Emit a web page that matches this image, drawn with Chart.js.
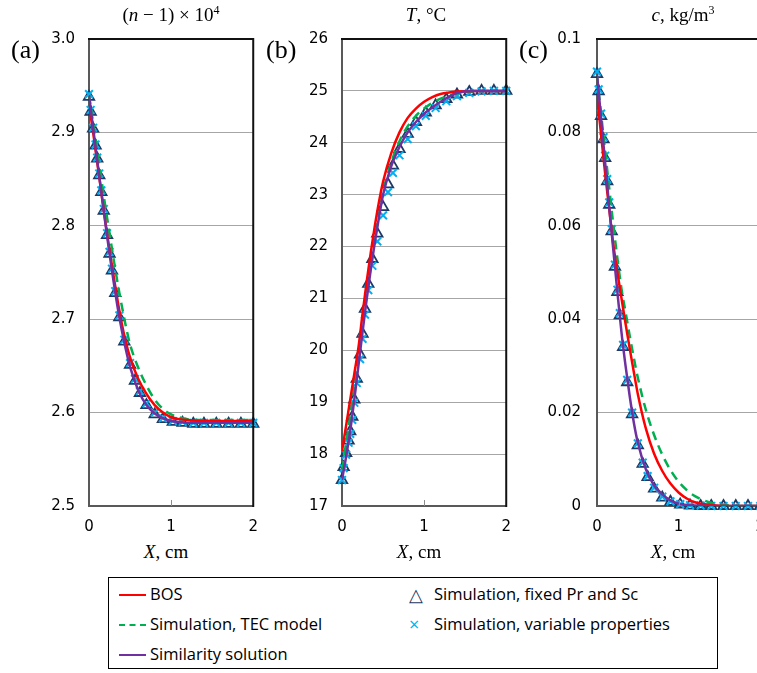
<!DOCTYPE html>
<html>
<head>
<meta charset="utf-8">
<script src="https://cdn.jsdelivr.net/npm/chart.js@4.4.0/dist/chart.umd.min.js"></script>
<style>
  html, body { margin: 0; padding: 0; background: #fff; overflow: hidden; }
  body { width: 757px; height: 673px; position: relative; }
  canvas { position: absolute; top: 0; }
  .math { position: absolute; font-family: "Liberation Serif", serif; font-size: 19px; color: #000; white-space: nowrap; transform: translateX(-50%); }
  .math sup { font-size: 12px; vertical-align: 7px; line-height: 0; }
  .tag { position: absolute; font-family: "Liberation Serif", serif; font-size: 26px; color: #000; }
  #legend { position: absolute; left: 108px; top: 577px; width: 608px; height: 90px; border: 1.5px solid #000; font-family: "Open Sans", sans-serif; font-size: 16.5px; color: #000; }
  .item { position: absolute; height: 30px; line-height: 30px; white-space: nowrap; }
  .sw { position: absolute; left: 0; top: 15px; width: 27px; height: 0; }
  .sym { position: absolute; left: 0; top: 0; font-size: 18px; }
</style>
</head>
<body>
<canvas id="chartA" width="270" height="540" style="left:0px"></canvas>
<canvas id="chartB" width="265" height="540" style="left:258px"></canvas>
<canvas id="chartC" width="266" height="540" style="left:511px"></canvas>

<div class="math" style="left:171px; top:4px">(<i>n</i> − 1) × 10<sup>4</sup></div>
<div class="math" style="left:426px; top:4px"><i>T</i>, °C</div>
<div class="math" style="left:683px; top:4px"><i>c</i>, kg/m<sup>3</sup></div>

<div class="tag" style="left:11px; top:35px">(a)</div>
<div class="tag" style="left:266px; top:35px">(b)</div>
<div class="tag" style="left:519px; top:35px">(c)</div>

<div class="math" style="left:166px; top:541px"><i>X</i>, cm</div>
<div class="math" style="left:419px; top:541px"><i>X</i>, cm</div>
<div class="math" style="left:673px; top:541px"><i>X</i>, cm</div>

<div id="legend">
  <div class="item" style="left:10px; top:1px"><span class="sw" style="border-top:2.5px solid #ff0000"></span><span style="margin-left:31px">BOS</span></div>
  <div class="item" style="left:10px; top:31px"><span class="sw" style="border-top:2.5px dashed #00b050; width:27px"></span><span style="margin-left:31px">Simulation, TEC model</span></div>
  <div class="item" style="left:10px; top:61px"><span class="sw" style="border-top:2.5px solid #7030a0"></span><span style="margin-left:31px">Similarity solution</span></div>
  <div class="item" style="left:300px; top:1px"><span class="sym" style="color:#1f3864">△</span><span style="margin-left:25px">Simulation, fixed Pr and Sc</span></div>
  <div class="item" style="left:300px; top:31px"><span class="sym" style="color:#00b0f0">×</span><span style="margin-left:25px">Simulation, variable properties</span></div>
</div>

<script>
// x positions, cm
const X_LINE = [0, 0.05, 0.1, 0.15, 0.2, 0.25, 0.3, 0.35, 0.4, 0.45, 0.5, 0.6, 0.7, 0.8, 0.9, 1.0, 1.1, 1.2, 1.4, 1.6, 1.8, 2.0];
const X_SIM = [0, 0.02, 0.05, 0.08, 0.1, 0.125, 0.15, 0.18, 0.22, 0.25, 0.28, 0.32, 0.37, 0.43, 0.5, 0.56, 0.62, 0.7, 0.8, 0.9, 1.02, 1.14, 1.27, 1.4, 1.55, 1.7, 1.85, 2.0];
const X_TICKS = [0, 1, 2];

// (a) (n-1) x 10^4
const A_BOS = [2.930, 2.900, 2.868, 2.836, 2.804, 2.774, 2.746, 2.719, 2.695, 2.675, 2.659, 2.636, 2.620, 2.608, 2.600, 2.595, 2.593, 2.592, 2.591, 2.591, 2.591, 2.591];
const A_TEC = [2.940, 2.910, 2.880, 2.850, 2.820, 2.792, 2.764, 2.738, 2.714, 2.692, 2.673, 2.648, 2.629, 2.614, 2.604, 2.598, 2.595, 2.593, 2.592, 2.592, 2.592, 2.592];
const A_SIMIL = [2.940, 2.905, 2.870, 2.836, 2.802, 2.770, 2.740, 2.712, 2.688, 2.667, 2.649, 2.624, 2.608, 2.599, 2.594, 2.591, 2.590, 2.589, 2.589, 2.589, 2.589, 2.589];
const A_FIXED = [2.938, 2.922, 2.904, 2.886, 2.872, 2.854, 2.836, 2.816, 2.790, 2.770, 2.752, 2.728, 2.702, 2.676, 2.651, 2.634, 2.621, 2.608, 2.598, 2.593, 2.590, 2.589, 2.588, 2.588, 2.588, 2.588, 2.588, 2.588];
const A_VAR = [2.941, 2.924, 2.905, 2.887, 2.873, 2.856, 2.838, 2.818, 2.792, 2.772, 2.754, 2.730, 2.704, 2.678, 2.653, 2.636, 2.623, 2.610, 2.600, 2.594, 2.591, 2.590, 2.589, 2.589, 2.589, 2.589, 2.589, 2.589];
const A_TICKS = [2.5, 2.6, 2.7, 2.8, 2.9, 3.0];
const A_TICK_LABELS = ['2.5', '2.6', '2.7', '2.8', '2.9', '3.0'];

// (b) T, C
const B_BOS = [18.05, 18.55, 19.05, 19.55, 20.05, 20.7, 21.32, 21.88, 22.4, 22.86, 23.25, 23.8, 24.2, 24.48, 24.66, 24.79, 24.88, 24.94, 24.99, 25.0, 25.0, 25.0];
const B_TEC = [17.7, 18.2, 18.75, 19.3, 19.85, 20.45, 21.05, 21.62, 22.15, 22.62, 23.05, 23.62, 24.03, 24.32, 24.52, 24.66, 24.77, 24.85, 24.95, 24.99, 25.0, 25.0];
const B_SIMIL = [17.5, 17.95, 18.45, 19.05, 19.7, 20.35, 20.98, 21.55, 22.08, 22.56, 23.0, 23.55, 23.92, 24.2, 24.4, 24.56, 24.68, 24.79, 24.96, 25.0, 25.0, 25.0];
const B_FIXED = [17.5, 17.75, 18.02, 18.26, 18.44, 18.72, 19.05, 19.45, 19.92, 20.32, 20.8, 21.28, 21.76, 22.25, 22.76, 23.2, 23.56, 23.88, 24.17, 24.4, 24.58, 24.72, 24.84, 24.93, 24.98, 25.0, 25.0, 25.0];
const B_VAR = [17.5, 17.73, 17.99, 18.22, 18.39, 18.66, 18.99, 19.37, 19.83, 20.22, 20.69, 21.16, 21.63, 22.1, 22.6, 23.05, 23.42, 23.76, 24.07, 24.32, 24.52, 24.67, 24.8, 24.9, 24.96, 24.99, 25.0, 25.0];
const B_TICKS = [17, 18, 19, 20, 21, 22, 23, 24, 25, 26];
const B_TICK_LABELS = ['17', '18', '19', '20', '21', '22', '23', '24', '25', '26'];

// (c) c, kg/m3
const C_BOS = [0.0880, 0.0795, 0.0712, 0.0635, 0.0560, 0.0500, 0.0445, 0.0390, 0.0338, 0.0288, 0.0240, 0.0165, 0.0112, 0.0075, 0.0048, 0.0029, 0.0016, 0.0008, 0.0002, 0, 0, 0];
const C_TEC = [0.0920, 0.0840, 0.0760, 0.0680, 0.0602, 0.0530, 0.0465, 0.0415, 0.0365, 0.0318, 0.0275, 0.0205, 0.0152, 0.0110, 0.0077, 0.0052, 0.0034, 0.0021, 0.0007, 0.0002, 0, 0];
const C_SIMIL = [0.0925, 0.0830, 0.0735, 0.0640, 0.0548, 0.0458, 0.0372, 0.0300, 0.0236, 0.0180, 0.0136, 0.0078, 0.0044, 0.0025, 0.0012, 0.0005, 0.0002, 0.0001, 0, 0, 0, 0];
const C_FIXED = [0.0925, 0.0888, 0.0835, 0.0785, 0.0745, 0.0695, 0.0645, 0.0588, 0.0512, 0.0458, 0.0408, 0.0340, 0.0265, 0.0196, 0.0130, 0.0090, 0.0062, 0.0037, 0.0018, 0.0009, 0.0003, 0.0001, 0, 0, 0, 0, 0, 0];
const C_VAR = [0.0930, 0.0892, 0.0840, 0.0790, 0.0750, 0.0700, 0.0650, 0.0593, 0.0517, 0.0463, 0.0413, 0.0345, 0.0270, 0.0200, 0.0134, 0.0093, 0.0064, 0.0039, 0.0020, 0.0010, 0.0004, 0.0002, 0.0001, 0, 0, 0, 0, 0];
const C_TICKS = [0, 0.02, 0.04, 0.06, 0.08, 0.1];
const C_TICK_LABELS = ['0', '0.02', '0.04', '0.06', '0.08', '0.1'];

const tickFont = { family: 'DejaVu Sans', size: 15 };

function pairs(xs, ys) {
    return xs.map((x, i) => ({ x: x, y: ys[i] }));
}

// top and right edges of the plot box, plus short inward ticks on X
const frame = {
    id: 'frame',
    afterDraw(chart) {
        const { ctx, chartArea: a } = chart;
        const xs = chart.scales.x;
        ctx.save();
        ctx.strokeStyle = '#111';
        ctx.lineWidth = 2;
        ctx.beginPath();
        ctx.moveTo(a.left - 1, a.top);
        ctx.lineTo(a.right, a.top);
        ctx.lineTo(a.right, a.bottom + 1);
        ctx.stroke();
        ctx.strokeStyle = '#8c8c8c';
        ctx.lineWidth = 1;
        X_TICKS.slice(1, -1).forEach(v => {
            const px = Math.round(xs.getPixelForValue(v)) + 0.5;
            ctx.beginPath();
            ctx.moveTo(px, a.bottom);
            ctx.lineTo(px, a.bottom - 6);
            ctx.stroke();
        });
        ctx.restore();
    }
};

function makePanel(id, d) {
    const lineSet = (label, ys, color, dash, order) => ({
        label: label,
        data: pairs(X_LINE, ys),
        borderColor: color,
        borderWidth: 2.5,
        borderDash: dash,
        pointRadius: 0,
        cubicInterpolationMode: 'monotone',
        fill: false,
        order: order
    });
    const markSet = (label, ys, color, style, radius, width, order) => ({
        label: label,
        data: pairs(X_SIM, ys),
        showLine: false,
        pointStyle: style,
        pointRadius: radius,
        borderColor: color,
        backgroundColor: 'rgba(0,0,0,0)',
        pointBorderWidth: width,
        clip: false,
        order: order
    });

    return new Chart(document.getElementById(id), {
        type: 'line',
        data: {
            datasets: [
                lineSet('Similarity solution', d.simil, '#7030a0', [], 0),
                lineSet('BOS', d.bos, '#ff0000', [], 1),
                lineSet('Simulation, TEC model', d.tec, '#00b050', [9, 6], 2),
                markSet('Simulation, variable properties', d.vari, '#00b0f0', 'crossRot', 5.5, 2, 3),
                markSet('Simulation, fixed Pr and Sc', d.fixed, '#1f3864', 'triangle', 6, 1.8, 4)
            ]
        },
        options: {
            responsive: false,
            animation: false,
            layout: { padding: { top: 39, right: 0, left: 0, bottom: 0 } },
            plugins: { legend: { display: false }, tooltip: { enabled: false } },
            scales: {
                x: {
                    type: 'linear',
                    min: 0,
                    max: 2,
                    afterBuildTicks: s => { s.ticks = X_TICKS.map(v => ({ value: v })); },
                    ticks: { font: tickFont, color: '#000', padding: 12, maxRotation: 0 },
                    grid: { drawOnChartArea: false, drawTicks: false },
                    border: { color: '#595959', width: 2 },
                    afterFit: s => { s.height = 34; }
                },
                y: {
                    type: 'linear',
                    min: d.ticks[0],
                    max: d.ticks[d.ticks.length - 1],
                    afterBuildTicks: s => { s.ticks = d.ticks.map(v => ({ value: v })); },
                    ticks: { font: tickFont, color: '#000', padding: d.pad, callback: (v, i) => d.labels[i] },
                    grid: { color: '#a6a6a6', lineWidth: 1, drawTicks: false },
                    border: { color: '#595959', width: 2 },
                    afterFit: s => { s.width = d.yw; }
                }
            }
        },
        plugins: [frame]
    });
}

makePanel('chartA', { bos: A_BOS, tec: A_TEC, simil: A_SIMIL, fixed: A_FIXED, vari: A_VAR, ticks: A_TICKS, labels: A_TICK_LABELS, yw: 89, pad: 14 });
makePanel('chartB', { bos: B_BOS, tec: B_TEC, simil: B_SIMIL, fixed: B_FIXED, vari: B_VAR, ticks: B_TICKS, labels: B_TICK_LABELS, yw: 84, pad: 14 });
makePanel('chartC', { bos: C_BOS, tec: C_TEC, simil: C_SIMIL, fixed: C_FIXED, vari: C_VAR, ticks: C_TICKS, labels: C_TICK_LABELS, yw: 86, pad: 16 });
</script>
</body>
</html>
